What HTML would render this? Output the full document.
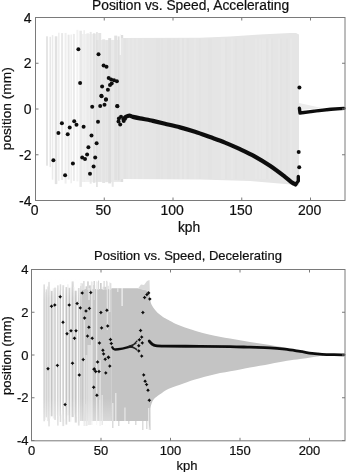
<!DOCTYPE html>
<html><head><meta charset="utf-8"><style>html,body{margin:0;padding:0;background:#fff;width:347px;height:472px;overflow:hidden}svg{display:block;will-change:transform}text{stroke:#0f0f0f;stroke-width:0.2px}</style></head>
<body><svg width="347" height="472" viewBox="0 0 347 472" font-family="Liberation Sans, sans-serif" font-size="13" fill="#0f0f0f">
<defs><linearGradient id="gt" x1="0" y1="0" x2="0" y2="1"><stop offset="0" stop-color="#fff" stop-opacity="0.45"/><stop offset="1" stop-color="#fff" stop-opacity="0"/></linearGradient><linearGradient id="gb" x1="0" y1="0" x2="0" y2="1"><stop offset="0" stop-color="#fff" stop-opacity="0"/><stop offset="1" stop-color="#fff" stop-opacity="0.45"/></linearGradient><filter id="bl" filterUnits="userSpaceOnUse" x="0" y="0" width="347" height="472"><feGaussianBlur stdDeviation="0.35"/></filter></defs>
<rect width="347" height="472" fill="#fff"/>
<g filter="url(#bl)">
<g><rect x="80" y="34" width="16" height="148" fill="#f1f1f1"/><rect x="96" y="40" width="25" height="142" fill="#eaeaea"/><rect x="46.0" y="36.3" width="2" height="129.4" fill="rgb(229,229,229)"/><rect x="49.5" y="36.8" width="1.5" height="130.3" fill="rgb(232,232,232)"/><rect x="51.8" y="35.1" width="1.5" height="144.6" fill="rgb(235,235,235)"/><rect x="54.8" y="36.3" width="2.5" height="147.8" fill="rgb(226,226,226)"/><rect x="58.1" y="32.7" width="1.5" height="148.1" fill="rgb(238,238,238)"/><rect x="61.1" y="33.1" width="2" height="146.9" fill="rgb(232,232,232)"/><rect x="64.6" y="32.9" width="2" height="150.7" fill="rgb(238,238,238)"/><rect x="67.6" y="34.7" width="2" height="144.8" fill="rgb(232,232,232)"/><rect x="70.4" y="34.5" width="1.5" height="148.8" fill="rgb(238,238,238)"/><rect x="72.9" y="33.9" width="2" height="147.0" fill="rgb(235,235,235)"/><rect x="76.4" y="29.8" width="2" height="151.6" fill="rgb(242,242,242)"/><rect x="79.4" y="30.7" width="2.5" height="156.2" fill="rgb(232,232,232)"/><rect x="83.4" y="30.2" width="1.5" height="151.6" fill="rgb(238,238,238)"/><rect x="86.4" y="33.3" width="2.5" height="146.3" fill="rgb(235,235,235)"/><rect x="89.7" y="31.9" width="2" height="151.8" fill="rgb(232,232,232)"/><rect x="92.9" y="33.3" width="2.5" height="149.5" fill="rgb(226,226,226)"/><rect x="96.2" y="32.1" width="1.5" height="154.9" fill="rgb(222,222,222)"/><rect x="98.2" y="33.0" width="3" height="148.7" fill="rgb(228,228,228)"/><rect x="102.2" y="39.3" width="3" height="143.7" fill="rgb(228,228,228)"/><rect x="105.7" y="40.2" width="2" height="142.0" fill="rgb(228,228,228)"/><rect x="108.2" y="38.1" width="3" height="145.3" fill="rgb(222,222,222)"/><rect x="111.7" y="39.9" width="2" height="146.9" fill="rgb(232,232,232)"/><rect x="114.2" y="35.6" width="3" height="144.6" fill="rgb(225,225,225)"/><rect x="117.7" y="36.4" width="2" height="144.0" fill="rgb(222,222,222)"/><rect x="120.7" y="35.0" width="2.5" height="147.0" fill="rgb(222,222,222)"/><polygon points="121,38 200,37.8 230,36.5 260,34.5 290,33 296,33 299,34.5 299,185.5 294,184.8 250,181 200,179.5 121,179" fill="#e5e5e5"/><rect x="121.5" y="38.5" width="1" height="140.5" fill="rgb(233,233,233)"/><rect x="124.5" y="38.5" width="1" height="140.5" fill="rgb(226,226,226)"/><rect x="128.5" y="38.5" width="1" height="140.5" fill="rgb(233,233,233)"/><rect x="132.5" y="38.5" width="1" height="140.5" fill="rgb(233,233,233)"/><rect x="136.5" y="38.5" width="1" height="140.5" fill="rgb(233,233,233)"/><rect x="138.5" y="38.5" width="1" height="140.5" fill="rgb(229,229,229)"/><rect x="142.5" y="38.5" width="1" height="140.5" fill="rgb(233,233,233)"/><rect x="145.5" y="38.5" width="1" height="140.5" fill="rgb(229,229,229)"/><rect x="148.5" y="38.5" width="1" height="140.5" fill="rgb(229,229,229)"/><rect x="150.5" y="38.5" width="1" height="140.5" fill="rgb(229,229,229)"/><rect x="154.5" y="38.5" width="1" height="140.5" fill="rgb(229,229,229)"/><rect x="156.5" y="38.5" width="1" height="140.5" fill="rgb(226,226,226)"/><rect x="158.5" y="38.5" width="1" height="140.5" fill="rgb(226,226,226)"/><rect x="161.5" y="38.5" width="1" height="140.5" fill="rgb(226,226,226)"/><rect x="163.5" y="38.5" width="1" height="140.5" fill="rgb(229,229,229)"/><rect x="167.5" y="38.5" width="1" height="140.5" fill="rgb(226,226,226)"/><rect x="169.5" y="38.5" width="1" height="140.5" fill="rgb(226,226,226)"/><rect x="173.5" y="38.5" width="1" height="140.5" fill="rgb(226,226,226)"/><rect x="177.5" y="38.5" width="1" height="140.5" fill="rgb(226,226,226)"/><rect x="180.5" y="38.5" width="1" height="140.5" fill="rgb(233,233,233)"/><rect x="182.5" y="38.5" width="1" height="140.5" fill="rgb(226,226,226)"/><rect x="184.5" y="38.5" width="1" height="140.5" fill="rgb(233,233,233)"/><rect x="187.5" y="38.5" width="1" height="140.5" fill="rgb(226,226,226)"/><rect x="191.5" y="38.5" width="1" height="140.5" fill="rgb(229,229,229)"/><rect x="194.5" y="38.5" width="1" height="140.5" fill="rgb(233,233,233)"/><rect x="197.5" y="38.5" width="1" height="140.5" fill="rgb(229,229,229)"/><rect x="199.5" y="38.5" width="1" height="140.5" fill="rgb(226,226,226)"/><rect x="202.5" y="38.5" width="1" height="140.5" fill="rgb(229,229,229)"/><rect x="205.5" y="38.5" width="1" height="140.5" fill="rgb(229,229,229)"/><rect x="208.5" y="38.5" width="1" height="140.5" fill="rgb(226,226,226)"/><rect x="210.5" y="38.5" width="1" height="140.5" fill="rgb(226,226,226)"/><rect x="214.5" y="38.5" width="1" height="140.5" fill="rgb(229,229,229)"/><rect x="218.5" y="38.5" width="1" height="140.5" fill="rgb(229,229,229)"/><rect x="221.5" y="38.5" width="1" height="140.5" fill="rgb(233,233,233)"/><rect x="223.5" y="38.5" width="1" height="140.5" fill="rgb(233,233,233)"/><rect x="225.5" y="38.5" width="1" height="140.5" fill="rgb(226,226,226)"/><rect x="229.5" y="38.5" width="1" height="140.5" fill="rgb(229,229,229)"/><rect x="231.5" y="38.5" width="1" height="140.5" fill="rgb(233,233,233)"/><rect x="235.5" y="38.5" width="1" height="140.5" fill="rgb(226,226,226)"/><rect x="239.5" y="38.5" width="1" height="140.5" fill="rgb(229,229,229)"/><rect x="243.5" y="38.5" width="1" height="140.5" fill="rgb(226,226,226)"/><rect x="247.5" y="38.5" width="1" height="140.5" fill="rgb(229,229,229)"/><rect x="251.5" y="38.5" width="1" height="140.5" fill="rgb(229,229,229)"/><rect x="253.5" y="38.5" width="1" height="140.5" fill="rgb(229,229,229)"/><rect x="255.5" y="38.5" width="1" height="140.5" fill="rgb(233,233,233)"/><rect x="259.5" y="38.5" width="1" height="140.5" fill="rgb(233,233,233)"/><rect x="262.5" y="38.5" width="1" height="140.5" fill="rgb(233,233,233)"/><rect x="264.5" y="38.5" width="1" height="140.5" fill="rgb(233,233,233)"/><rect x="266.5" y="38.5" width="1" height="140.5" fill="rgb(226,226,226)"/><rect x="269.5" y="38.5" width="1" height="140.5" fill="rgb(233,233,233)"/><rect x="271.5" y="38.5" width="1" height="140.5" fill="rgb(226,226,226)"/><rect x="275.5" y="38.5" width="1" height="140.5" fill="rgb(229,229,229)"/><rect x="278.5" y="38.5" width="1" height="140.5" fill="rgb(233,233,233)"/><rect x="280.5" y="38.5" width="1" height="140.5" fill="rgb(226,226,226)"/><rect x="283.5" y="38.5" width="1" height="140.5" fill="rgb(229,229,229)"/><rect x="286.5" y="38.5" width="1" height="140.5" fill="rgb(226,226,226)"/><rect x="290.5" y="38.5" width="1" height="140.5" fill="rgb(233,233,233)"/><rect x="293.5" y="38.5" width="1" height="140.5" fill="rgb(229,229,229)"/><rect x="297.5" y="38.5" width="1" height="140.5" fill="rgb(229,229,229)"/><polygon points="299,103 322,108 299,110" fill="#ececec"/><rect x="119.8" y="34" width="1.1" height="21" fill="#f8f8f8"/><circle cx="80.1" cy="83.1" r="2" fill="#111"/><circle cx="78.4" cy="49.3" r="2" fill="#111"/><circle cx="98.5" cy="54.2" r="2" fill="#111"/><circle cx="103.6" cy="65.5" r="2" fill="#111"/><circle cx="106.5" cy="66.7" r="2" fill="#111"/><circle cx="108.7" cy="78" r="2" fill="#111"/><circle cx="111.1" cy="79.6" r="2" fill="#111"/><circle cx="114" cy="80.2" r="2" fill="#111"/><circle cx="116.9" cy="81.3" r="2" fill="#111"/><circle cx="111.7" cy="83.6" r="2" fill="#111"/><circle cx="110" cy="85.1" r="2" fill="#111"/><circle cx="102.1" cy="86.5" r="2" fill="#111"/><circle cx="107.9" cy="89.7" r="2" fill="#111"/><circle cx="101.3" cy="95.7" r="2" fill="#111"/><circle cx="106" cy="99.2" r="2" fill="#111"/><circle cx="101.6" cy="96.2" r="2" fill="#111"/><circle cx="105.9" cy="99.8" r="2" fill="#111"/><circle cx="92.2" cy="106.8" r="2" fill="#111"/><circle cx="100.2" cy="106.1" r="2" fill="#111"/><circle cx="104.5" cy="104.8" r="2" fill="#111"/><circle cx="117.2" cy="106" r="2" fill="#111"/><circle cx="98" cy="121.7" r="2" fill="#111"/><circle cx="83.6" cy="126.7" r="2" fill="#111"/><circle cx="91.5" cy="135.6" r="2" fill="#111"/><circle cx="96.6" cy="143.3" r="2" fill="#111"/><circle cx="61.9" cy="123.2" r="2" fill="#111"/><circle cx="74.2" cy="121.2" r="2" fill="#111"/><circle cx="76.5" cy="124.7" r="2" fill="#111"/><circle cx="69.7" cy="127.6" r="2" fill="#111"/><circle cx="58.4" cy="133" r="2" fill="#111"/><circle cx="67.7" cy="134.2" r="2" fill="#111"/><circle cx="88.4" cy="147.2" r="2" fill="#111"/><circle cx="87.1" cy="154.5" r="2" fill="#111"/><circle cx="82.2" cy="157.6" r="2" fill="#111"/><circle cx="85" cy="159.1" r="2" fill="#111"/><circle cx="95.2" cy="157.6" r="2" fill="#111"/><circle cx="53.4" cy="160.2" r="2" fill="#111"/><circle cx="72.9" cy="163.5" r="2" fill="#111"/><circle cx="93.6" cy="166.4" r="2" fill="#111"/><circle cx="65.1" cy="175.2" r="2" fill="#111"/><circle cx="90" cy="173.7" r="2" fill="#111"/><circle cx="117.4" cy="106.3" r="2" fill="#111"/><circle cx="121" cy="116.7" r="2" fill="#111"/><circle cx="118.9" cy="118.4" r="2" fill="#111"/><circle cx="118.5" cy="121.4" r="2" fill="#111"/><circle cx="120.2" cy="124.4" r="2" fill="#111"/><circle cx="123.7" cy="121" r="2" fill="#111"/><circle cx="125" cy="118.8" r="2" fill="#111"/><circle cx="299.4" cy="87.5" r="2" fill="#111"/><circle cx="298.7" cy="152.1" r="2" fill="#111"/><circle cx="299.2" cy="167.2" r="2" fill="#111"/><path d="M123.50,119.20 C123.92,118.80 125.03,117.40 126.00,116.80 C126.97,116.20 128.13,115.58 129.30,115.60 C130.47,115.62 131.22,116.43 133.00,116.90 C134.78,117.37 137.17,117.85 140.00,118.40 C142.83,118.95 147.50,119.70 150.00,120.20 C152.50,120.70 152.50,120.80 155.00,121.40 C157.50,122.00 160.83,122.80 165.00,123.80 C169.17,124.80 175.00,126.07 180.00,127.40 C185.00,128.73 190.00,130.18 195.00,131.80 C200.00,133.42 205.00,135.30 210.00,137.10 C215.00,138.90 220.00,140.58 225.00,142.60 C230.00,144.62 235.00,146.87 240.00,149.20 C245.00,151.53 250.00,153.83 255.00,156.60 C260.00,159.37 265.00,162.43 270.00,165.80 C275.00,169.17 281.33,174.02 285.00,176.80 C288.67,179.58 290.25,181.22 292.00,182.50 C293.75,183.78 294.92,184.17 295.50,184.50" fill="none" stroke="#111" stroke-width="4.2" stroke-linejoin="round" stroke-linecap="round"/><polyline points="295.5,184.5 298.3,181 298.3,176.5" fill="none" stroke="#111" stroke-width="3.4" stroke-linejoin="round" stroke-linecap="round"/><polyline points="299.4,108.2 300,113 316.6,110.9 331,109.2 344,108.4" fill="none" stroke="#111" stroke-width="3.4" stroke-linejoin="round" stroke-linecap="round"/></g>
<g><rect x="43.5" y="284.4" width="1.3" height="136.9" fill="rgb(196,196,196)"/><rect x="44.8" y="291.9" width="1.0" height="128.2" fill="rgb(234,234,234)"/><rect x="45.7" y="289.3" width="1.2" height="128.0" fill="rgb(204,204,204)"/><rect x="46.9" y="286.5" width="1.4" height="134.6" fill="rgb(226,226,226)"/><rect x="48.3" y="281.9" width="1.4" height="144.5" fill="rgb(200,200,200)"/><rect x="49.7" y="289.5" width="1.1" height="129.1" fill="rgb(242,242,242)"/><rect x="50.8" y="290.9" width="1.9" height="125.4" fill="rgb(196,196,196)"/><rect x="52.7" y="288.3" width="1.3" height="130.3" fill="rgb(234,234,234)"/><rect x="54.1" y="287.6" width="1.9" height="132.3" fill="rgb(212,212,212)"/><rect x="55.9" y="287.9" width="1.4" height="127.4" fill="rgb(250,250,250)"/><rect x="57.3" y="285.3" width="1.2" height="140.3" fill="rgb(196,196,196)"/><rect x="58.5" y="290.4" width="1.2" height="125.7" fill="rgb(234,234,234)"/><rect x="59.7" y="284.3" width="1.5" height="137.7" fill="rgb(204,204,204)"/><rect x="61.1" y="290.5" width="1.2" height="124.1" fill="rgb(255,255,255)"/><rect x="62.3" y="285.2" width="1.9" height="140.9" fill="rgb(208,208,208)"/><rect x="64.2" y="287.5" width="1.3" height="131.8" fill="rgb(255,255,255)"/><rect x="65.5" y="287.1" width="1.7" height="137.5" fill="rgb(196,196,196)"/><rect x="67.2" y="284.3" width="1.4" height="131.1" fill="rgb(234,234,234)"/><rect x="68.6" y="287.8" width="1.8" height="134.0" fill="rgb(196,196,196)"/><rect x="70.4" y="287.3" width="1.2" height="134.4" fill="rgb(242,242,242)"/><rect x="71.6" y="281.4" width="2.1" height="135.7" fill="rgb(196,196,196)"/><rect x="73.7" y="287.1" width="1.0" height="127.2" fill="rgb(242,242,242)"/><rect x="74.7" y="290.7" width="2.1" height="131.9" fill="rgb(196,196,196)"/><rect x="76.8" y="284.8" width="1.1" height="132.0" fill="rgb(255,255,255)"/><rect x="77.9" y="288.0" width="1.7" height="137.6" fill="rgb(208,208,208)"/><rect x="79.6" y="291.5" width="1.2" height="125.1" fill="rgb(234,234,234)"/><rect x="80" y="289" width="31.6" height="132" fill="#c6c6c6"/><rect x="80.0" y="286.0" width="1.6" height="4.0" fill="rgb(208,208,208)"/><rect x="81.6" y="283.4" width="1.4" height="6.6" fill="rgb(224,224,224)"/><rect x="83.0" y="281.0" width="1.7" height="9.0" fill="rgb(224,224,224)"/><rect x="85.6" y="286.3" width="1.3" height="3.7" fill="rgb(200,200,200)"/><rect x="87.0" y="281.4" width="1.9" height="8.6" fill="rgb(216,216,216)"/><rect x="88.9" y="285.4" width="2.0" height="4.6" fill="rgb(208,208,208)"/><rect x="90.9" y="281.6" width="1.4" height="8.4" fill="rgb(224,224,224)"/><rect x="93.3" y="285.1" width="1.8" height="4.9" fill="rgb(208,208,208)"/><rect x="96.1" y="281.8" width="1.4" height="8.2" fill="rgb(224,224,224)"/><rect x="98.0" y="280.6" width="1.1" height="9.4" fill="rgb(216,216,216)"/><rect x="100.1" y="283.0" width="1.5" height="7.0" fill="rgb(200,200,200)"/><rect x="102.5" y="286.7" width="1.6" height="3.3" fill="rgb(232,232,232)"/><rect x="104.2" y="286.8" width="2.0" height="3.2" fill="rgb(208,208,208)"/><rect x="106.2" y="280.8" width="1.1" height="9.2" fill="rgb(216,216,216)"/><rect x="107.2" y="285.8" width="1.3" height="4.2" fill="rgb(208,208,208)"/><rect x="109.5" y="283.1" width="1.8" height="6.9" fill="rgb(216,216,216)"/><rect x="80.5" y="283" width="1.2" height="138" fill="rgb(216,216,216)"/><rect x="83.5" y="320" width="1.5" height="106" fill="rgb(226,226,226)"/><rect x="85.5" y="355" width="2.0" height="71" fill="rgb(220,220,220)"/><rect x="88.5" y="288" width="1.0" height="12" fill="rgb(240,240,240)"/><rect x="91.2" y="282" width="1.3" height="143" fill="rgb(236,236,236)"/><rect x="96.2" y="281" width="1.0" height="144" fill="rgb(242,242,242)"/><rect x="99.5" y="360" width="1.2" height="66" fill="rgb(230,230,230)"/><rect x="101.5" y="395" width="1.5" height="30" fill="rgb(222,222,222)"/><rect x="106.8" y="282" width="1.0" height="48" fill="rgb(232,232,232)"/><rect x="109.3" y="282" width="1.0" height="30" fill="rgb(240,240,240)"/><rect x="93.5" y="281" width="1.5" height="19" fill="rgb(212,212,212)"/><rect x="103.5" y="281" width="1.2" height="9" fill="rgb(214,214,214)"/><rect x="87.5" y="345" width="3.7" height="80" fill="rgb(222,222,222)"/><rect x="42" y="279" width="40" height="20" fill="url(#gt)"/><rect x="42" y="398" width="70" height="31" fill="url(#gb)"/><path d="M111.5,288.2 L138,288.2 L149.5,291 L149.8,292 C149.88,293.33 150.02,297.92 150.30,300.00 C150.58,302.08 150.95,303.17 151.50,304.50 C152.05,305.83 152.85,306.92 153.60,308.00 C154.35,309.08 155.13,310.03 156.00,311.00 C156.87,311.97 157.63,312.80 158.80,313.80 C159.97,314.80 161.47,316.00 163.00,317.00 C164.53,318.00 165.83,318.63 168.00,319.80 C170.17,320.97 173.17,322.70 176.00,324.00 C178.83,325.30 181.83,326.47 185.00,327.60 C188.17,328.73 190.83,329.60 195.00,330.80 C199.17,332.00 204.17,333.50 210.00,334.80 C215.83,336.10 223.33,337.42 230.00,338.60 C236.67,339.78 243.33,340.83 250.00,341.90 C256.67,342.97 263.33,343.88 270.00,345.00 C276.67,346.12 284.17,347.50 290.00,348.60 C295.83,349.70 299.33,350.53 305.00,351.60 C310.67,352.67 320.83,354.43 324.00,355.00 L324,355.2 C322.00,355.53 316.00,356.57 312.00,357.20 C308.00,357.83 304.17,358.40 300.00,359.00 C295.83,359.60 292.00,359.97 287.00,360.80 C282.00,361.63 276.17,362.87 270.00,364.00 C263.83,365.13 255.83,366.50 250.00,367.60 C244.17,368.70 240.83,369.50 235.00,370.60 C229.17,371.70 221.67,372.72 215.00,374.20 C208.33,375.68 200.83,377.73 195.00,379.50 C189.17,381.27 184.37,383.25 180.00,384.80 C175.63,386.35 172.20,387.17 168.80,388.80 C165.40,390.43 162.10,392.87 159.60,394.60 C157.10,396.33 155.15,397.67 153.80,399.20 C152.45,400.73 152.07,402.27 151.50,403.80 C150.93,405.33 150.58,407.63 150.40,408.40 L150.5,430 L149.5,430 L148.5,421 L111.5,421 Z" fill="#c4c4c4"/><polygon points="138,288.4 141,284.5 144,285 147,281 149.5,280 149.8,291 140,289" fill="#dadada"/><rect x="121.5" y="288" width="1.2" height="18" fill="#f4f4f4"/><rect x="148.3" y="408" width="0.9" height="22" fill="#f4f4f4"/><rect x="117" y="288" width="1.5" height="4" fill="#e0e0e0"/><rect x="112" y="403" width="1.5" height="18" fill="#e2e2e2"/><rect x="115" y="393" width="1.5" height="28" fill="#e2e2e2"/><rect x="124.2" y="407.5" width="1.5" height="13.5" fill="#e2e2e2"/><rect x="99" y="400" width="1.5" height="21" fill="#e2e2e2"/><rect x="84" y="404" width="1.5" height="17" fill="#e2e2e2"/><rect x="112" y="421" width="1.5" height="7" fill="#dcdcdc"/><rect x="118" y="421" width="1.5" height="5" fill="#dcdcdc"/><rect x="128" y="421" width="1.5" height="3" fill="#dcdcdc"/><rect x="135" y="421" width="1.5" height="4" fill="#dcdcdc"/><rect x="142" y="421" width="1.5" height="9" fill="#dcdcdc"/><rect x="146" y="421" width="1.5" height="8" fill="#dcdcdc"/><path d="M49.50,306.30 L50.80,305.60 L51.50,304.30 L52.20,305.60 L53.50,306.30 L52.20,307.00 L51.50,308.30 L50.80,307.00 Z" fill="#111"/><circle cx="51.5" cy="306.3" r="1.1" fill="#111"/><path d="M52.80,305.00 L54.10,304.30 L54.80,303.00 L55.50,304.30 L56.80,305.00 L55.50,305.70 L54.80,307.00 L54.10,305.70 Z" fill="#111"/><circle cx="54.8" cy="305" r="1.1" fill="#111"/><path d="M58.20,296.80 L59.50,296.10 L60.20,294.80 L60.90,296.10 L62.20,296.80 L60.90,297.50 L60.20,298.80 L59.50,297.50 Z" fill="#111"/><circle cx="60.2" cy="296.8" r="1.1" fill="#111"/><path d="M67.20,305.00 L68.50,304.30 L69.20,303.00 L69.90,304.30 L71.20,305.00 L69.90,305.70 L69.20,307.00 L68.50,305.70 Z" fill="#111"/><circle cx="69.2" cy="305" r="1.1" fill="#111"/><path d="M75.10,303.50 L76.40,302.80 L77.10,301.50 L77.80,302.80 L79.10,303.50 L77.80,304.20 L77.10,305.50 L76.40,304.20 Z" fill="#111"/><circle cx="77.1" cy="303.5" r="1.1" fill="#111"/><path d="M78.30,307.90 L79.60,307.20 L80.30,305.90 L81.00,307.20 L82.30,307.90 L81.00,308.60 L80.30,309.90 L79.60,308.60 Z" fill="#111"/><circle cx="80.3" cy="307.9" r="1.1" fill="#111"/><path d="M61.00,322.30 L62.30,321.60 L63.00,320.30 L63.70,321.60 L65.00,322.30 L63.70,323.00 L63.00,324.30 L62.30,323.00 Z" fill="#111"/><circle cx="63" cy="322.3" r="1.1" fill="#111"/><path d="M80.20,293.00 L81.50,292.30 L82.20,291.00 L82.90,292.30 L84.20,293.00 L82.90,293.70 L82.20,295.00 L81.50,293.70 Z" fill="#111"/><circle cx="82.2" cy="293" r="1.1" fill="#111"/><path d="M88.80,292.60 L90.10,291.90 L90.80,290.60 L91.50,291.90 L92.80,292.60 L91.50,293.30 L90.80,294.60 L90.10,293.30 Z" fill="#111"/><circle cx="90.8" cy="292.6" r="1.1" fill="#111"/><path d="M84.00,311.00 L85.30,310.30 L86.00,309.00 L86.70,310.30 L88.00,311.00 L86.70,311.70 L86.00,313.00 L85.30,311.70 Z" fill="#111"/><circle cx="86" cy="311" r="1.1" fill="#111"/><path d="M87.40,308.40 L88.70,307.70 L89.40,306.40 L90.10,307.70 L91.40,308.40 L90.10,309.10 L89.40,310.40 L88.70,309.10 Z" fill="#111"/><circle cx="89.4" cy="308.4" r="1.1" fill="#111"/><path d="M82.60,318.00 L83.90,317.30 L84.60,316.00 L85.30,317.30 L86.60,318.00 L85.30,318.70 L84.60,320.00 L83.90,318.70 Z" fill="#111"/><circle cx="84.6" cy="318" r="1.1" fill="#111"/><path d="M98.90,312.50 L100.20,311.80 L100.90,310.50 L101.60,311.80 L102.90,312.50 L101.60,313.20 L100.90,314.50 L100.20,313.20 Z" fill="#111"/><circle cx="100.9" cy="312.5" r="1.1" fill="#111"/><path d="M104.90,310.30 L106.20,309.60 L106.90,308.30 L107.60,309.60 L108.90,310.30 L107.60,311.00 L106.90,312.30 L106.20,311.00 Z" fill="#111"/><circle cx="106.9" cy="310.3" r="1.1" fill="#111"/><path d="M69.00,330.80 L70.30,330.10 L71.00,328.80 L71.70,330.10 L73.00,330.80 L71.70,331.50 L71.00,332.80 L70.30,331.50 Z" fill="#111"/><circle cx="71" cy="330.8" r="1.1" fill="#111"/><path d="M74.00,330.80 L75.30,330.10 L76.00,328.80 L76.70,330.10 L78.00,330.80 L76.70,331.50 L76.00,332.80 L75.30,331.50 Z" fill="#111"/><circle cx="76" cy="330.8" r="1.1" fill="#111"/><path d="M65.00,333.70 L66.30,333.00 L67.00,331.70 L67.70,333.00 L69.00,333.70 L67.70,334.40 L67.00,335.70 L66.30,334.40 Z" fill="#111"/><circle cx="67" cy="333.7" r="1.1" fill="#111"/><path d="M72.50,338.30 L73.80,337.60 L74.50,336.30 L75.20,337.60 L76.50,338.30 L75.20,339.00 L74.50,340.30 L73.80,339.00 Z" fill="#111"/><circle cx="74.5" cy="338.3" r="1.1" fill="#111"/><path d="M70.50,363.20 L71.80,362.50 L72.50,361.20 L73.20,362.50 L74.50,363.20 L73.20,363.90 L72.50,365.20 L71.80,363.90 Z" fill="#111"/><circle cx="72.5" cy="363.2" r="1.1" fill="#111"/><path d="M55.40,365.40 L56.70,364.70 L57.40,363.40 L58.10,364.70 L59.40,365.40 L58.10,366.10 L57.40,367.40 L56.70,366.10 Z" fill="#111"/><circle cx="57.4" cy="365.4" r="1.1" fill="#111"/><path d="M46.00,368.70 L47.30,368.00 L48.00,366.70 L48.70,368.00 L50.00,368.70 L48.70,369.40 L48.00,370.70 L47.30,369.40 Z" fill="#111"/><circle cx="48" cy="368.7" r="1.1" fill="#111"/><path d="M86.90,327.20 L88.20,326.50 L88.90,325.20 L89.60,326.50 L90.90,327.20 L89.60,327.90 L88.90,329.20 L88.20,327.90 Z" fill="#111"/><circle cx="88.9" cy="327.2" r="1.1" fill="#111"/><path d="M99.60,327.90 L100.90,327.20 L101.60,325.90 L102.30,327.20 L103.60,327.90 L102.30,328.60 L101.60,329.90 L100.90,328.60 Z" fill="#111"/><circle cx="101.6" cy="327.9" r="1.1" fill="#111"/><path d="M105.70,326.00 L107.00,325.30 L107.70,324.00 L108.40,325.30 L109.70,326.00 L108.40,326.70 L107.70,328.00 L107.00,326.70 Z" fill="#111"/><circle cx="107.7" cy="326" r="1.1" fill="#111"/><path d="M85.50,336.10 L86.80,335.40 L87.50,334.10 L88.20,335.40 L89.50,336.10 L88.20,336.80 L87.50,338.10 L86.80,336.80 Z" fill="#111"/><circle cx="87.5" cy="336.1" r="1.1" fill="#111"/><path d="M90.20,338.30 L91.50,337.60 L92.20,336.30 L92.90,337.60 L94.20,338.30 L92.90,339.00 L92.20,340.30 L91.50,339.00 Z" fill="#111"/><circle cx="92.2" cy="338.3" r="1.1" fill="#111"/><path d="M97.40,343.00 L98.70,342.30 L99.40,341.00 L100.10,342.30 L101.40,343.00 L100.10,343.70 L99.40,345.00 L98.70,343.70 Z" fill="#111"/><circle cx="99.4" cy="343" r="1.1" fill="#111"/><path d="M108.50,339.50 L109.80,338.80 L110.50,337.50 L111.20,338.80 L112.50,339.50 L111.20,340.20 L110.50,341.50 L109.80,340.20 Z" fill="#111"/><circle cx="110.5" cy="339.5" r="1.1" fill="#111"/><path d="M109.30,343.50 L110.60,342.80 L111.30,341.50 L112.00,342.80 L113.30,343.50 L112.00,344.20 L111.30,345.50 L110.60,344.20 Z" fill="#111"/><circle cx="111.3" cy="343.5" r="1.1" fill="#111"/><path d="M100.90,350.30 L102.20,349.60 L102.90,348.30 L103.60,349.60 L104.90,350.30 L103.60,351.00 L102.90,352.30 L102.20,351.00 Z" fill="#111"/><circle cx="102.9" cy="350.3" r="1.1" fill="#111"/><path d="M101.60,353.90 L102.90,353.20 L103.60,351.90 L104.30,353.20 L105.60,353.90 L104.30,354.60 L103.60,355.90 L102.90,354.60 Z" fill="#111"/><circle cx="103.6" cy="353.9" r="1.1" fill="#111"/><path d="M106.40,357.20 L107.70,356.50 L108.40,355.20 L109.10,356.50 L110.40,357.20 L109.10,357.90 L108.40,359.20 L107.70,357.90 Z" fill="#111"/><circle cx="108.4" cy="357.2" r="1.1" fill="#111"/><path d="M103.20,359.20 L104.50,358.50 L105.20,357.20 L105.90,358.50 L107.20,359.20 L105.90,359.90 L105.20,361.20 L104.50,359.90 Z" fill="#111"/><circle cx="105.2" cy="359.2" r="1.1" fill="#111"/><path d="M81.20,359.60 L82.50,358.90 L83.20,357.60 L83.90,358.90 L85.20,359.60 L83.90,360.30 L83.20,361.60 L82.50,360.30 Z" fill="#111"/><circle cx="83.2" cy="359.6" r="1.1" fill="#111"/><path d="M95.60,362.00 L96.90,361.30 L97.60,360.00 L98.30,361.30 L99.60,362.00 L98.30,362.70 L97.60,364.00 L96.90,362.70 Z" fill="#111"/><circle cx="97.6" cy="362" r="1.1" fill="#111"/><path d="M107.80,366.10 L109.10,365.40 L109.80,364.10 L110.50,365.40 L111.80,366.10 L110.50,366.80 L109.80,368.10 L109.10,366.80 Z" fill="#111"/><circle cx="109.8" cy="366.1" r="1.1" fill="#111"/><path d="M92.30,369.00 L93.60,368.30 L94.30,367.00 L95.00,368.30 L96.30,369.00 L95.00,369.70 L94.30,371.00 L93.60,369.70 Z" fill="#111"/><circle cx="94.3" cy="369" r="1.1" fill="#111"/><path d="M77.30,375.00 L78.60,374.30 L79.30,373.00 L80.00,374.30 L81.30,375.00 L80.00,375.70 L79.30,377.00 L78.60,375.70 Z" fill="#111"/><circle cx="79.3" cy="375" r="1.1" fill="#111"/><path d="M63.10,404.60 L64.40,403.90 L65.10,402.60 L65.80,403.90 L67.10,404.60 L65.80,405.30 L65.10,406.60 L64.40,405.30 Z" fill="#111"/><circle cx="65.1" cy="404.6" r="1.1" fill="#111"/><path d="M92.00,369.30 L93.30,368.60 L94.00,367.30 L94.70,368.60 L96.00,369.30 L94.70,370.00 L94.00,371.30 L93.30,370.00 Z" fill="#111"/><circle cx="94" cy="369.3" r="1.1" fill="#111"/><path d="M93.70,371.50 L95.00,370.80 L95.70,369.50 L96.40,370.80 L97.70,371.50 L96.40,372.20 L95.70,373.50 L95.00,372.20 Z" fill="#111"/><circle cx="95.7" cy="371.5" r="1.1" fill="#111"/><path d="M97.00,371.50 L98.30,370.80 L99.00,369.50 L99.70,370.80 L101.00,371.50 L99.70,372.20 L99.00,373.50 L98.30,372.20 Z" fill="#111"/><circle cx="99" cy="371.5" r="1.1" fill="#111"/><path d="M103.80,372.90 L105.10,372.20 L105.80,370.90 L106.50,372.20 L107.80,372.90 L106.50,373.60 L105.80,374.90 L105.10,373.60 Z" fill="#111"/><circle cx="105.8" cy="372.9" r="1.1" fill="#111"/><path d="M91.70,387.30 L93.00,386.60 L93.70,385.30 L94.40,386.60 L95.70,387.30 L94.40,388.00 L93.70,389.30 L93.00,388.00 Z" fill="#111"/><circle cx="93.7" cy="387.3" r="1.1" fill="#111"/><path d="M94.90,395.30 L96.20,394.60 L96.90,393.30 L97.60,394.60 L98.90,395.30 L97.60,396.00 L96.90,397.30 L96.20,396.00 Z" fill="#111"/><circle cx="96.9" cy="395.3" r="1.1" fill="#111"/><path d="M106.50,357.50 L107.80,356.80 L108.50,355.50 L109.20,356.80 L110.50,357.50 L109.20,358.20 L108.50,359.50 L107.80,358.20 Z" fill="#111"/><circle cx="108.5" cy="357.5" r="1.1" fill="#111"/><path d="M146.60,292.90 L147.90,292.20 L148.60,290.90 L149.30,292.20 L150.60,292.90 L149.30,293.60 L148.60,294.90 L147.90,293.60 Z" fill="#111"/><circle cx="148.6" cy="292.9" r="1.1" fill="#111"/><path d="M144.90,294.60 L146.20,293.90 L146.90,292.60 L147.60,293.90 L148.90,294.60 L147.60,295.30 L146.90,296.60 L146.20,295.30 Z" fill="#111"/><circle cx="146.9" cy="294.6" r="1.1" fill="#111"/><path d="M142.60,297.50 L143.90,296.80 L144.60,295.50 L145.30,296.80 L146.60,297.50 L145.30,298.20 L144.60,299.50 L143.90,298.20 Z" fill="#111"/><circle cx="144.6" cy="297.5" r="1.1" fill="#111"/><path d="M147.80,299.00 L149.10,298.30 L149.80,297.00 L150.50,298.30 L151.80,299.00 L150.50,299.70 L149.80,301.00 L149.10,299.70 Z" fill="#111"/><circle cx="149.8" cy="299" r="1.1" fill="#111"/><path d="M140.90,312.50 L142.20,311.80 L142.90,310.50 L143.60,311.80 L144.90,312.50 L143.60,313.20 L142.90,314.50 L142.20,313.20 Z" fill="#111"/><circle cx="142.9" cy="312.5" r="1.1" fill="#111"/><path d="M138.60,330.50 L139.90,329.80 L140.60,328.50 L141.30,329.80 L142.60,330.50 L141.30,331.20 L140.60,332.50 L139.90,331.20 Z" fill="#111"/><circle cx="140.6" cy="330.5" r="1.1" fill="#111"/><path d="M139.70,337.10 L141.00,336.40 L141.70,335.10 L142.40,336.40 L143.70,337.10 L142.40,337.80 L141.70,339.10 L141.00,337.80 Z" fill="#111"/><circle cx="141.7" cy="337.1" r="1.1" fill="#111"/><path d="M137.40,339.80 L138.70,339.10 L139.40,337.80 L140.10,339.10 L141.40,339.80 L140.10,340.50 L139.40,341.80 L138.70,340.50 Z" fill="#111"/><circle cx="139.4" cy="339.8" r="1.1" fill="#111"/><path d="M140.30,342.90 L141.60,342.20 L142.30,340.90 L143.00,342.20 L144.30,342.90 L143.00,343.60 L142.30,344.90 L141.60,343.60 Z" fill="#111"/><circle cx="142.3" cy="342.9" r="1.1" fill="#111"/><path d="M136.80,345.70 L138.10,345.00 L138.80,343.70 L139.50,345.00 L140.80,345.70 L139.50,346.40 L138.80,347.70 L138.10,346.40 Z" fill="#111"/><circle cx="138.8" cy="345.7" r="1.1" fill="#111"/><path d="M136.80,350.90 L138.10,350.20 L138.80,348.90 L139.50,350.20 L140.80,350.90 L139.50,351.60 L138.80,352.90 L138.10,351.60 Z" fill="#111"/><circle cx="138.8" cy="350.9" r="1.1" fill="#111"/><path d="M139.70,356.10 L141.00,355.40 L141.70,354.10 L142.40,355.40 L143.70,356.10 L142.40,356.80 L141.70,358.10 L141.00,356.80 Z" fill="#111"/><circle cx="141.7" cy="356.1" r="1.1" fill="#111"/><path d="M141.70,374.90 L143.00,374.20 L143.70,372.90 L144.40,374.20 L145.70,374.90 L144.40,375.60 L143.70,376.90 L143.00,375.60 Z" fill="#111"/><circle cx="143.7" cy="374.9" r="1.1" fill="#111"/><path d="M143.10,381.20 L144.40,380.50 L145.10,379.20 L145.80,380.50 L147.10,381.20 L145.80,381.90 L145.10,383.20 L144.40,381.90 Z" fill="#111"/><circle cx="145.1" cy="381.2" r="1.1" fill="#111"/><path d="M144.60,384.60 L145.90,383.90 L146.60,382.60 L147.30,383.90 L148.60,384.60 L147.30,385.30 L146.60,386.60 L145.90,385.30 Z" fill="#111"/><circle cx="146.6" cy="384.6" r="1.1" fill="#111"/><path d="M146.00,390.20 L147.30,389.50 L148.00,388.20 L148.70,389.50 L150.00,390.20 L148.70,390.90 L148.00,392.20 L147.30,390.90 Z" fill="#111"/><circle cx="148" cy="390.2" r="1.1" fill="#111"/><path d="M147.30,400.30 L148.60,399.60 L149.30,398.30 L150.00,399.60 L151.30,400.30 L150.00,401.00 L149.30,402.30 L148.60,401.00 Z" fill="#111"/><circle cx="149.3" cy="400.3" r="1.1" fill="#111"/><path d="M112.30,347.30 C112.67,347.65 112.83,349.18 114.50,349.40 C116.17,349.62 119.85,349.02 122.30,348.60 C124.75,348.18 127.60,347.28 129.20,346.90 C130.80,346.52 131.45,346.40 131.90,346.30" fill="none" stroke="#111" stroke-width="2.4" stroke-linejoin="round" stroke-linecap="round"/><line x1="131.9" y1="346.3" x2="137" y2="341" stroke="#222" stroke-width="1.2" stroke-linecap="round"/><line x1="131.9" y1="346.3" x2="137" y2="350" stroke="#222" stroke-width="1.2" stroke-linecap="round"/><line x1="128" y1="346.5" x2="136" y2="343.5" stroke="#222" stroke-width="1.2" stroke-linecap="round"/><line x1="128" y1="346.5" x2="136" y2="348.5" stroke="#222" stroke-width="1.2" stroke-linecap="round"/><path d="M149.20,341.10 C149.67,341.58 150.95,343.23 152.00,344.00 C153.05,344.77 153.33,345.33 155.50,345.70 C157.67,346.07 157.58,346.10 165.00,346.20 C172.42,346.30 189.17,346.23 200.00,346.30 C210.83,346.37 221.67,346.45 230.00,346.60 C238.33,346.75 243.33,347.00 250.00,347.20 C256.67,347.40 264.17,347.47 270.00,347.80 C275.83,348.13 280.00,348.60 285.00,349.20 C290.00,349.80 295.50,350.72 300.00,351.40 C304.50,352.08 308.33,352.82 312.00,353.30 C315.67,353.78 318.33,354.07 322.00,354.30 C325.67,354.53 330.33,354.62 334.00,354.70 C337.67,354.78 342.33,354.78 344.00,354.80" fill="none" stroke="#111" stroke-width="2.8" stroke-linejoin="round" stroke-linecap="round"/></g>
<g font-size="14">
<rect x="35.5" y="17.5" width="309.5" height="183.0" fill="none" stroke="#7a7a7a" stroke-width="1"/>
<line x1="35.5" y1="200.5" x2="35.5" y2="197.5" stroke="#7a7a7a"/>
<line x1="35.5" y1="17.5" x2="35.5" y2="20.5" stroke="#7a7a7a"/>
<text x="34.6" y="214.7" text-anchor="middle">0</text>
<line x1="104.25" y1="200.5" x2="104.25" y2="197.5" stroke="#7a7a7a"/>
<line x1="104.25" y1="17.5" x2="104.25" y2="20.5" stroke="#7a7a7a"/>
<text x="103.35" y="214.7" text-anchor="middle">50</text>
<line x1="173.0" y1="200.5" x2="173.0" y2="197.5" stroke="#7a7a7a"/>
<line x1="173.0" y1="17.5" x2="173.0" y2="20.5" stroke="#7a7a7a"/>
<text x="172.1" y="214.7" text-anchor="middle">100</text>
<line x1="241.75" y1="200.5" x2="241.75" y2="197.5" stroke="#7a7a7a"/>
<line x1="241.75" y1="17.5" x2="241.75" y2="20.5" stroke="#7a7a7a"/>
<text x="240.85" y="214.7" text-anchor="middle">150</text>
<line x1="310.5" y1="200.5" x2="310.5" y2="197.5" stroke="#7a7a7a"/>
<line x1="310.5" y1="17.5" x2="310.5" y2="20.5" stroke="#7a7a7a"/>
<text x="309.6" y="214.7" text-anchor="middle">200</text>
<line x1="35.5" y1="17.5" x2="38.5" y2="17.5" stroke="#7a7a7a"/>
<line x1="345" y1="17.5" x2="342" y2="17.5" stroke="#7a7a7a"/>
<text x="31.5" y="22.54" text-anchor="end">4</text>
<line x1="35.5" y1="63.25" x2="38.5" y2="63.25" stroke="#7a7a7a"/>
<line x1="345" y1="63.25" x2="342" y2="63.25" stroke="#7a7a7a"/>
<text x="31.5" y="68.29" text-anchor="end">2</text>
<line x1="35.5" y1="109.0" x2="38.5" y2="109.0" stroke="#7a7a7a"/>
<line x1="345" y1="109.0" x2="342" y2="109.0" stroke="#7a7a7a"/>
<text x="31.5" y="114.04" text-anchor="end">0</text>
<line x1="35.5" y1="154.75" x2="38.5" y2="154.75" stroke="#7a7a7a"/>
<line x1="345" y1="154.75" x2="342" y2="154.75" stroke="#7a7a7a"/>
<text x="31.5" y="159.79" text-anchor="end">-2</text>
<line x1="35.5" y1="200.5" x2="38.5" y2="200.5" stroke="#7a7a7a"/>
<line x1="345" y1="200.5" x2="342" y2="200.5" stroke="#7a7a7a"/>
<text x="31.5" y="205.54" text-anchor="end">-4</text>
</g>
<g font-size="13">
<rect x="31.5" y="269.5" width="313.5" height="171.3" fill="none" stroke="#7a7a7a" stroke-width="1"/>
<line x1="31.5" y1="440.8" x2="31.5" y2="437.8" stroke="#7a7a7a"/>
<line x1="31.5" y1="269.5" x2="31.5" y2="272.5" stroke="#7a7a7a"/>
<text x="31.5" y="455" text-anchor="middle">0</text>
<line x1="101.0" y1="440.8" x2="101.0" y2="437.8" stroke="#7a7a7a"/>
<line x1="101.0" y1="269.5" x2="101.0" y2="272.5" stroke="#7a7a7a"/>
<text x="101.0" y="455" text-anchor="middle">50</text>
<line x1="170.5" y1="440.8" x2="170.5" y2="437.8" stroke="#7a7a7a"/>
<line x1="170.5" y1="269.5" x2="170.5" y2="272.5" stroke="#7a7a7a"/>
<text x="170.5" y="455" text-anchor="middle">100</text>
<line x1="239.99999999999997" y1="440.8" x2="239.99999999999997" y2="437.8" stroke="#7a7a7a"/>
<line x1="239.99999999999997" y1="269.5" x2="239.99999999999997" y2="272.5" stroke="#7a7a7a"/>
<text x="239.99999999999997" y="455" text-anchor="middle">150</text>
<line x1="309.5" y1="440.8" x2="309.5" y2="437.8" stroke="#7a7a7a"/>
<line x1="309.5" y1="269.5" x2="309.5" y2="272.5" stroke="#7a7a7a"/>
<text x="309.5" y="455" text-anchor="middle">200</text>
<line x1="31.5" y1="269.5" x2="34.5" y2="269.5" stroke="#7a7a7a"/>
<line x1="345" y1="269.5" x2="342" y2="269.5" stroke="#7a7a7a"/>
<text x="28.5" y="274.18" text-anchor="end">4</text>
<line x1="31.5" y1="312.25" x2="34.5" y2="312.25" stroke="#7a7a7a"/>
<line x1="345" y1="312.25" x2="342" y2="312.25" stroke="#7a7a7a"/>
<text x="28.5" y="316.93" text-anchor="end">2</text>
<line x1="31.5" y1="355.0" x2="34.5" y2="355.0" stroke="#7a7a7a"/>
<line x1="345" y1="355.0" x2="342" y2="355.0" stroke="#7a7a7a"/>
<text x="28.5" y="359.68" text-anchor="end">0</text>
<line x1="31.5" y1="397.75" x2="34.5" y2="397.75" stroke="#7a7a7a"/>
<line x1="345" y1="397.75" x2="342" y2="397.75" stroke="#7a7a7a"/>
<text x="28.5" y="402.43" text-anchor="end">-2</text>
<line x1="31.5" y1="440.5" x2="34.5" y2="440.5" stroke="#7a7a7a"/>
<line x1="345" y1="440.5" x2="342" y2="440.5" stroke="#7a7a7a"/>
<text x="28.5" y="445.18" text-anchor="end">-4</text>
</g>
<text x="190.6" y="10" text-anchor="middle" font-size="13.8">Position vs. Speed, Accelerating</text>
<text x="188" y="259.5" text-anchor="middle">Position vs. Speed, Decelerating</text>
<text x="189" y="232.2" text-anchor="middle" font-size="13.8">kph</text>
<text x="187" y="469.5" text-anchor="middle">kph</text>
<text transform="translate(10.5,108.75) rotate(-90)" text-anchor="middle" font-size="13.7">position (mm)</text>
<text transform="translate(11.2,355.5) rotate(-90)" text-anchor="middle">position (mm)</text>
</g>
</svg></body></html>
